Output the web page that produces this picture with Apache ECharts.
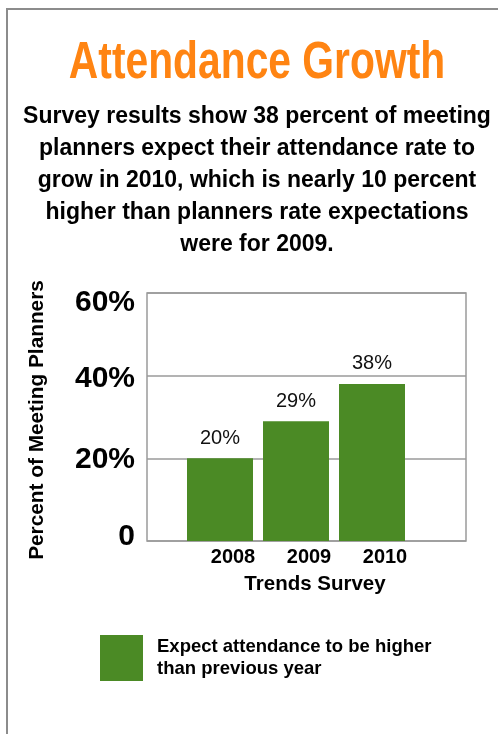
<!DOCTYPE html>
<html>
<head>
<meta charset="utf-8">
<script src="https://cdn.jsdelivr.net/npm/echarts@6/dist/echarts.min.js"></script>
<style>
  html, body { margin: 0; padding: 0; background: #fff; }
  #chart { width: 498px; height: 734px; }
</style>
</head>
<body>
<div id="chart"></div>
<script>
// Survey years and share of planners expecting higher attendance (%)
const categories = ['2008', '2009', '2010'];
const expectHigher = [20, 29, 38];
const seriesName = 'Expect attendance to be higher\nthan previous year';

const titleText = 'Attendance Growth';
const subtitleText = [
  'Survey results show 38 percent of meeting',
  'planners expect their attendance rate to',
  'grow in 2010, which is nearly 10 percent',
  'higher than planners rate expectations',
  'were for 2009.'
].join('\n');

const FONT = "'Liberation Sans', Arial, Helvetica, sans-serif";
const GREEN = '#4b8a25';
const ORANGE = '#ff8412';

const chart = echarts.init(document.getElementById('chart'), null, { renderer: 'canvas' });

// heavy tick labels, nudged to sit as in the printed layout
const tickBase = { fontSize: 30, fontWeight: 'bold', color: '#000', fontFamily: FONT };
const tickRich = {
  t60: Object.assign({}, tickBase, { padding: [20, 0, 0, 0] }),
  t40: Object.assign({}, tickBase, { padding: [6, 0, 0, 0] }),
  t20: Object.assign({}, tickBase, { padding: [2, 0, 0, 0] }),
  t0:  Object.assign({}, tickBase, { padding: [0, 0, 9, 0] })
};

chart.setOption({
  animation: false,
  backgroundColor: '#fff',
  textStyle: { fontFamily: FONT },
  graphic: [
    {
      type: 'rect',
      shape: { x: 7, y: 9, width: 520, height: 760 },
      style: { fill: 'none', stroke: '#8c8c8c', lineWidth: 2 },
      silent: true
    },
    {
      type: 'text',
      x: 257, y: 64,
      scaleX: 0.8,
      style: {
        text: titleText,
        font: 'bold 51px ' + FONT,
        fill: ORANGE,
        textAlign: 'center',
        textVerticalAlign: 'middle'
      }
    },
    {
      type: 'text',
      x: 257, y: 101,
      style: {
        text: subtitleText,
        font: 'bold 23px ' + FONT,
        lineHeight: 32,
        fill: '#000',
        textAlign: 'center',
        textVerticalAlign: 'top'
      }
    }
  ],
  legend: {
    left: 100,
    top: 633,
    padding: 0,
    icon: 'rect',
    itemWidth: 43,
    itemHeight: 46,
    selectedMode: false,
    data: [seriesName],
    textStyle: {
      fontFamily: FONT,
      fontWeight: 'bold',
      fontSize: 18.5,
      lineHeight: 22,
      color: '#000',
      padding: [0, 0, 6, 9]
    }
  },
  grid: [
    // framed plot area with the gridlines
    { left: 147, top: 293, width: 319, height: 248, show: true, borderColor: '#9a9a9a', borderWidth: 1.5, containLabel: false },
    // band that holds the three bars
    { left: 182, top: 293, width: 228, height: 248, containLabel: false }
  ],
  xAxis: [
    {
      gridIndex: 0, type: 'category', data: categories, show: false
    },
    {
      gridIndex: 1,
      type: 'category',
      data: categories,
      axisLine: { show: false },
      axisTick: { show: false },
      axisLabel: {
        margin: 6,
        fontSize: 20,
        fontWeight: 'bold',
        color: '#000',
        fontFamily: FONT,
        padding: [0, 0, 0, 26]
      },
      name: 'Trends Survey',
      nameLocation: 'middle',
      nameGap: 33,
      nameTextStyle: {
        fontSize: 20.5,
        fontWeight: 'bold',
        color: '#000',
        fontFamily: FONT,
        padding: [0, 0, 0, 38]
      }
    }
  ],
  yAxis: [
    {
      gridIndex: 0,
      type: 'value',
      min: 0, max: 60, interval: 20,
      axisLine: { show: false },
      axisTick: { show: false },
      splitLine: { show: true, lineStyle: { color: '#9a9a9a', width: 1.5 } },
      axisLabel: {
        margin: 12,
        formatter: v => '{t' + v + '|' + (v === 0 ? '0' : v + '%') + '}',
        rich: tickRich
      },
      name: 'Percent of Meeting Planners',
      nameLocation: 'middle',
      nameRotate: 90,
      nameGap: 99,
      nameTextStyle: {
        fontSize: 20.8,
        fontWeight: 'bold',
        color: '#000',
        fontFamily: FONT,
        padding: [0, 6, 0, 0]
      }
    },
    {
      gridIndex: 1, type: 'value', min: 0, max: 60, interval: 20, show: false,
      splitLine: { show: false }
    }
  ],
  series: [
    {
      name: seriesName,
      type: 'bar',
      xAxisIndex: 1,
      yAxisIndex: 1,
      data: expectHigher,
      barWidth: 66,
      itemStyle: { color: GREEN },
      label: {
        show: true,
        position: 'top',
        distance: 10,
        formatter: '{c}%',
        fontSize: 20,
        color: '#111',
        fontFamily: FONT
      }
    }
  ]
});
</script>
</body>
</html>
